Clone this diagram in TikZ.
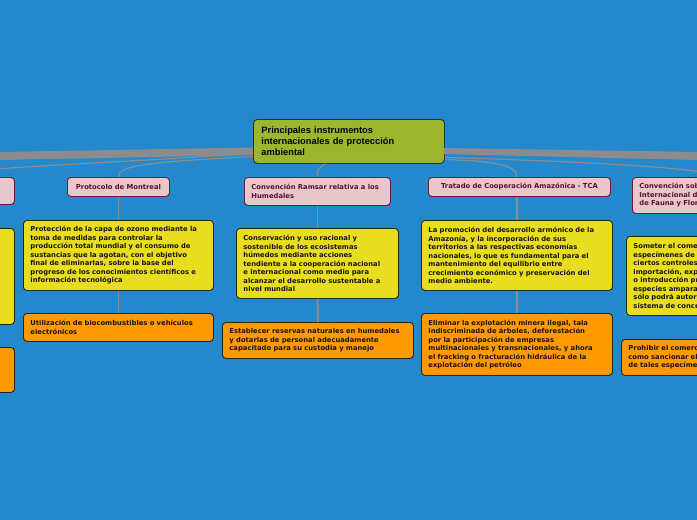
\documentclass[tikz,border=0pt]{standalone}
\usepackage{fontspec}
\newfontfamily\dv{DejaVu Sans}
\newfontfamily\lib{Liberation Sans}
\definecolor{bg}{RGB}{35,137,204}
\definecolor{lineg}{RGB}{140,140,142}
\definecolor{pinkf}{RGB}{232,199,204}
\definecolor{pinkd}{RGB}{110,28,50}
\definecolor{pinkt}{RGB}{90,18,38}
\definecolor{yel}{RGB}{232,221,30}
\definecolor{org}{RGB}{255,153,0}
\definecolor{boxd}{RGB}{40,36,30}
\definecolor{txt}{RGB}{25,22,18}
\definecolor{cenf}{RGB}{156,182,46}
\definecolor{cend}{RGB}{40,55,25}
\tikzset{
  base/.style={rounded corners=3.5pt, line width=0.9pt, anchor=north west, align=left,
    inner xsep=7pt, inner ysep=0pt, font=\dv\bfseries\fontsize{6.8}{8.5}\selectfont},
  hdr/.style={base, fill=pinkf, draw=pinkd, text=pinkt},
  ybox/.style={base, fill=yel, draw=boxd, text=txt},
  obox/.style={base, fill=org, draw=boxd, text=txt},
  cbox/.style={rounded corners=4pt, line width=0.9pt, anchor=north west, align=left,
    inner xsep=8pt, inner ysep=0pt, fill=cenf, draw=cend, text=black,
    font=\lib\bfseries\fontsize{9.3}{11}\selectfont},
  conn/.style={draw=lineg, line width=1.2pt},
  vconn/.style={draw=lineg, line width=1.8pt},
}
\begin{document}
\begin{tikzpicture}[x=1pt,y=-1pt]
\useasboundingbox (0,0) rectangle (697,520);
\clip (0,0) rectangle (697,520);
\fill[bg] (0,0) rectangle (697,520);

% central node
\node[cbox, text width=175pt, minimum height=44pt] (cen) at (253,119)
  {Principales instrumentos\\internacionales de protección\\ambiental};

% thick bundles to far nodes
\coordinate (farL) at (-10,156);
\coordinate (farR) at (707,156);
\fill[lineg] (253,147.5) -- (253,155) -- (0,160) -- (0,152) -- cycle;
\fill[lineg] (444,148) -- (444,154) -- (697,160) -- (697,152) -- cycle;

% header nodes
\node[hdr, text width=166pt, minimum height=27pt] (hL) at (-166,177) {};
\node[hdr, align=center, text width=88pt, minimum height=19pt] (hM) at (67,177) {Protocolo de Montreal};
\node[hdr, text width=132pt, minimum height=28pt] (hR) at (244,177) {Convención Ramsar relativa a los\\Humedales};
\node[hdr, align=center, text width=168pt, minimum height=19pt] (hT) at (428,177) {Tratado de Cooperación Amazónica - TCA};
\node[hdr, text width=176pt, minimum height=36pt] (hC) at (632,177) {Convención sobre el Comercio\\Internacional de Especies Amenazadas\\de Fauna y Flora Silvestres};

% yellow nodes
\node[ybox, text width=170pt, minimum height=96pt] (yL) at (-170,228) {};
\node[ybox, text width=176pt, minimum height=70pt] (yM) at (23,220)
  {Protección de la capa de ozono mediante la\\toma de medidas para controlar la\\producción total mundial y el consumo de\\sustancias que la agotan, con el objetivo\\final de eliminarlas, sobre la base del\\progreso de los conocimientos científicos e\\información tecnológica};
\node[ybox, text width=148pt, minimum height=70pt] (yR) at (236,228)
  {Conservación y uso racional y\\sostenible de los ecosistemas\\húmedos mediante acciones\\tendiente a la cooperación nacional\\e internacional como medio para\\alcanzar el desarrollo sustentable a\\nivel mundial};
\node[ybox, text width=177pt, minimum height=70pt] (yT) at (421,220)
  {La promoción del desarrollo armónico de la\\Amazonía, y la incorporación de sus\\territorios a las respectivas economías\\nacionales, lo que es fundamental para el\\mantenimiento del equilibrio entre\\crecimiento económico y preservación del\\medio ambiente.};
\node[ybox, text width=176pt, minimum height=79pt] (yC) at (626,236)
  {Someter el comercio internacional de\\especímenes de determinadas especies a\\ciertos controles. Toda\\importación, exportación, reexportación\\o introducción procedente del mar de\\especies amparadas por la Convención\\sólo podrá autorizarse mediante un\\sistema de concesión de licencias.};

% orange nodes
\node[obox, text width=170pt, minimum height=45pt] (oL) at (-170,347) {};
\node[obox, text width=176pt, minimum height=28pt] (oM) at (23,313)
  {Utilización de biocombustibles o vehículos\\electrónicos};
\node[obox, text width=177pt, minimum height=36pt] (oR) at (222,322)
  {Establecer reservas naturales en humedales\\y dotarlas de personal adecuadamente\\capacitado para su custodia y manejo};
\node[obox, text width=177pt, minimum height=62pt] (oT) at (421,313)
  {Eliminar la explotación minera ilegal, tala\\indiscriminada de árboles, deforestación\\por la participación de empresas\\multinacionales y transnacionales, y ahora\\el fracking o fracturación hidráulica de la\\explotación del petróleo};
\node[obox, text width=176pt, minimum height=36pt] (oC) at (621,339)
  {Prohibir el comercio de especímenes, así\\como sancionar el comercio o la posesión\\de tales especímenes};

% thin connectors from central node
\draw[conn] ([yshift=-12pt]cen.west) .. controls (150,161) and (-40,168) .. (hL.north);
\draw[conn] ([yshift=-15pt]cen.west) .. controls (150,162) and (118,165) .. (hM.north);
\draw[conn] ([xshift=-23.5pt]cen.south) .. controls (319,167) and (317,170) .. (hR.north);
\draw[conn] ([yshift=-18pt]cen.east) .. controls (495,161) and (yT.north |- 0,165) .. (yT.north |- hT.north);
\draw[conn] ([yshift=-16pt]cen.east) .. controls (600,162) and (700,168) .. (hC.north);

% vertical connectors
\draw[vconn] (hM.south) -- (yM.north);
\draw[vconn] (yM.south) -- (oM.north);
\draw[vconn] (hR.south) -- (yR.north);
\draw[vconn] (yR.south) -- (oR.north);
\draw[vconn] (yT.north |- hT.south) -- (yT.north);
\draw[vconn] (yT.south) -- (oT.north);
\draw[vconn] (hL.south) -- (yL.north);
\draw[vconn] (yL.south) -- (oL.north);
\draw[vconn] (hC.south) -- (yC.north);
\draw[vconn] (yC.south) -- (oC.north);
\end{tikzpicture}
\end{document}
